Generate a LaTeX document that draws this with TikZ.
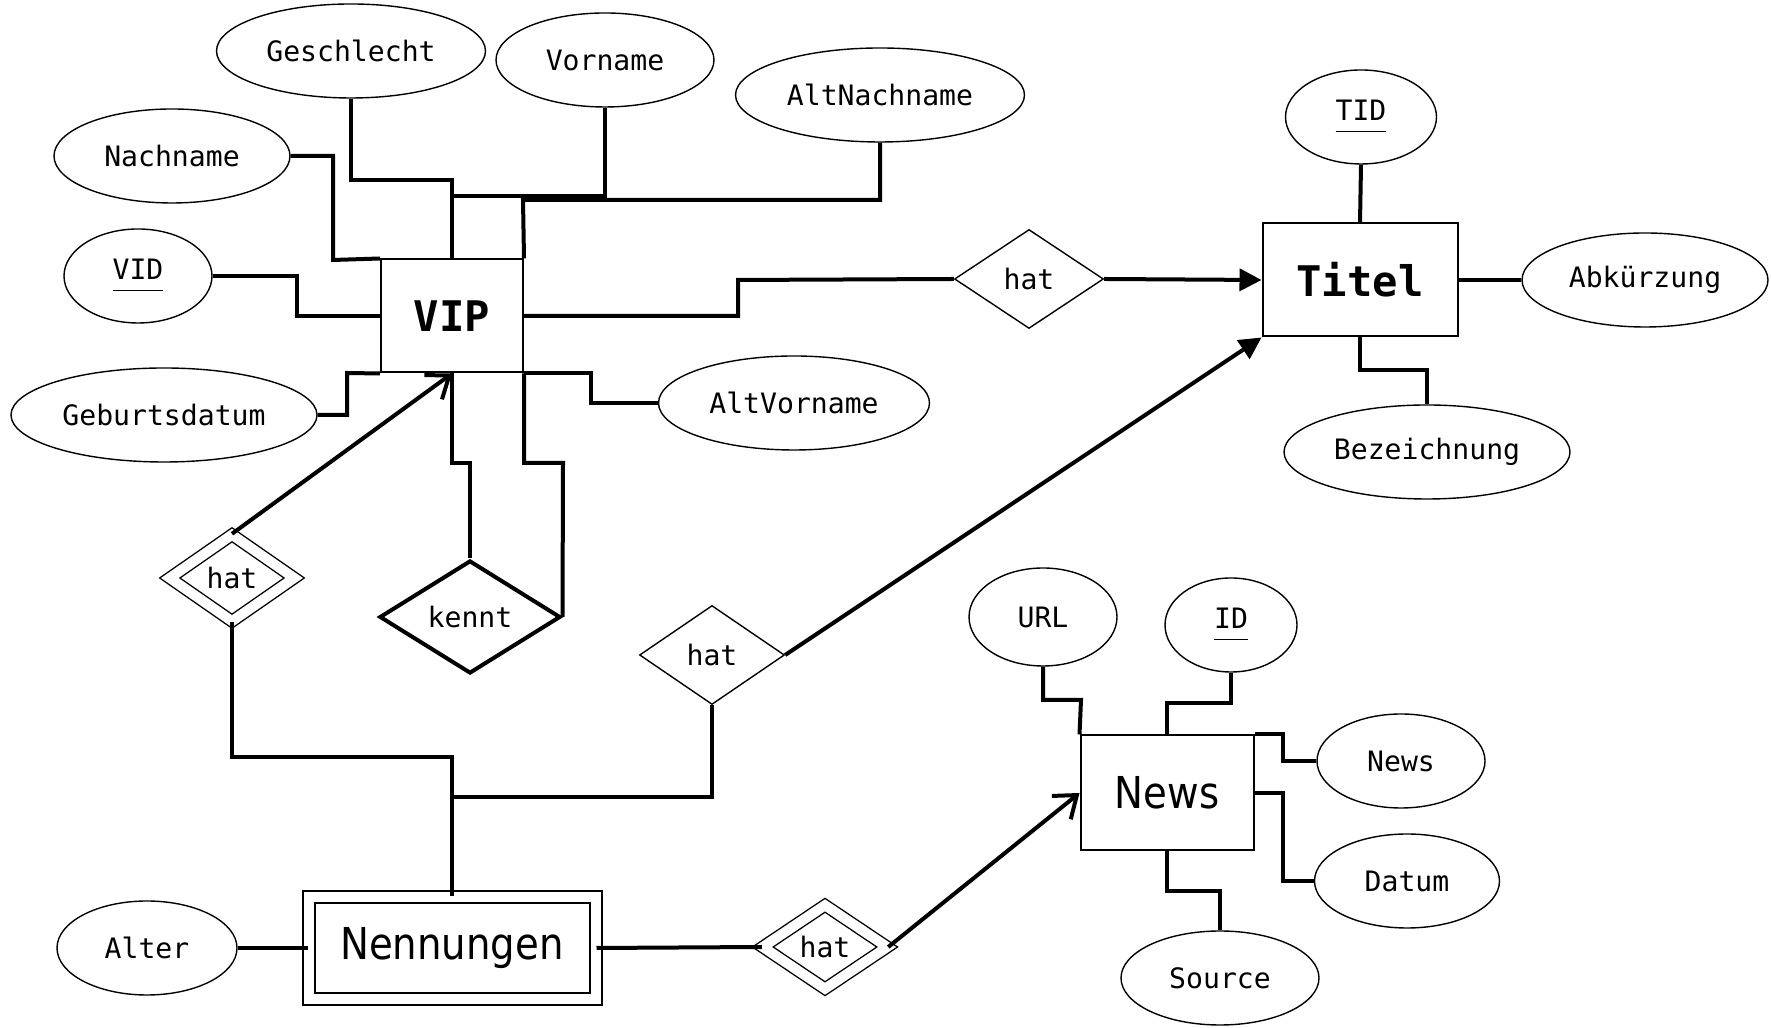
\documentclass[tikz,border=0pt]{standalone}
\usepackage{fontspec}
\setmonofont{DejaVu Sans Mono}
\newfontfamily\entSans[FakeStretch=0.88]{DejaVu Sans}
\usetikzlibrary{shapes.geometric, arrows.meta}

\newcommand{\keyAttr}[1]{\underline{#1\vphantom{g}}}

\begin{document}
\begin{tikzpicture}[x=0.1mm, y=-0.1mm,
    attr/.style={draw, ellipse, line width=0.14mm, inner sep=0pt, minimum height=9.4mm,
      font=\ttfamily\fontsize{8}{9.6}\selectfont},
    entity/.style={draw, rectangle, line width=0.2mm, inner sep=0pt, minimum height=11.3mm,
      font=\ttfamily\bfseries\fontsize{12}{14}\selectfont},
    relation/.style={draw, diamond, line width=0.14mm, inner sep=0pt,
      font=\ttfamily\fontsize{8}{9.6}\selectfont},
    sansEntity/.style={font=\entSans\fontsize{12.5}{15}\selectfont},
    conn/.style={line width=0.4mm},
    fillHead/.style={conn, -{Triangle[length=2.2mm, width=2.2mm]}},
    openHead/.style={conn, -{Straight Barb[length=2mm, width=3mm]}}]
  \useasboundingbox (0,0) rectangle (1771,1028);

  % Entities
  \node[entity, minimum width=14.2mm] (vip) at (452,316) {VIP};
  \node[entity, minimum width=19.5mm] (titel) at (1360,280) {Titel};
  \node[entity, sansEntity, minimum width=17.3mm, minimum height=11.5mm] (news) at (1167,793) {News};
  \node[entity, sansEntity, double, double distance=1mm, minimum width=28.7mm, minimum height=10.2mm] (nenn) at (452,948) {Nennungen};

  % Attributes of VIP
  \node[attr, minimum width=26.9mm] (geschlecht) at (351,51) {Geschlecht};
  \node[attr, minimum width=21.8mm] (vorname) at (605,60) {Vorname};
  \node[attr, minimum width=28.9mm] (altNachname) at (880,95) {AltNachname};
  \node[attr, minimum width=23.6mm] (nachname) at (172,156) {Nachname};
  \node[attr, minimum width=14.8mm] (vid) at (138,276) {\keyAttr{VID}};
  \node[attr, minimum width=30.6mm] (geburt) at (164,415) {Geburtsdatum};
  \node[attr, minimum width=27.1mm] (altVorname) at (794,403) {AltVorname};

  % Attributes of Titel
  \node[attr, minimum width=15.1mm] (tid) at (1361,117) {\keyAttr{TID}};
  \node[attr, minimum width=24.6mm] (abk) at (1645,280) {Abkürzung};
  \node[attr, minimum width=28.6mm] (bez) at (1427,452) {Bezeichnung};

  % Attributes of News
  \node[attr, minimum width=14.8mm, minimum height=9.8mm] (url) at (1043,617) {URL};
  \node[attr, minimum width=13.2mm] (id) at (1231,625) {\keyAttr{ID}};
  \node[attr, minimum width=16.8mm] (newsText) at (1401,761) {News};
  \node[attr, minimum width=18.5mm] (datum) at (1407,881) {Datum};
  \node[attr, minimum width=19.8mm] (source) at (1220,978) {Source};

  % Attribute of Nennungen
  \node[attr, minimum width=18mm] (alter) at (147,948) {Alter};

  % Relations
  \node[relation, minimum width=14.9mm, minimum height=9.9mm] (hatTitel) at (1029,279) {hat};
  \node[relation, double, double distance=1mm, minimum width=12.5mm, minimum height=8.7mm] (hatVip) at (232,578) {hat};
  \node[relation, line width=0.4mm, minimum width=18.1mm, minimum height=11.3mm] (kennt) at (470,617) {kennt};
  \node[relation, minimum width=14.5mm, minimum height=9.9mm] (hatNennTitel) at (712,655) {hat};
  \node[relation, double, double distance=1mm, minimum width=12.5mm, minimum height=8.4mm] (hatNews) at (825,947) {hat};

  \coordinate (nennJoin) at (452,797);

  % VIP attribute lines
  \draw[conn] (geschlecht.south) |- (452,180) -- (vip.north);
  \draw[conn] (vorname.south) |- (452,196) -- (vip.north);
  \draw[conn] (altNachname.south) |- (523,200) -- (vip.north east);
  \draw[conn] (nachname.east) -| (333,260) -- (vip.north west);
  \draw[conn] (vid.east) -| (297,316) -- (vip.west);
  \draw[conn] (geburt.east) -| (347,373) -- (vip.south west);
  \draw[conn] (vip.south east) -| (591,403) -- (altVorname.west);

  % Titel attribute lines
  \draw[conn] (titel.north) -- (tid.south);
  \draw[conn] (titel.east) -- (abk.west);
  \draw[conn] (titel.south) |- (1427,370) -- (bez.north);

  % News attribute lines
  \draw[conn] (url.south) |- (1081,700) -- (news.north west);
  \draw[conn] (id.south) |- (1167,703) -- (news.north);
  \draw[conn] (news.north east) -| (1283,761) -- (newsText.west);
  \draw[conn] (news.east) -| (1283,881) -- (datum.west);
  \draw[conn] (news.south) |- (1220,891) -- (source.north);

  \draw[conn] (alter.east) -- (nenn.west);

  % Relationship lines
  \draw[conn] (vip.east) -| (738,280) -- (hatTitel.west);
  \draw[fillHead] (hatTitel.east) -- (titel.west);
  \draw[conn] (vip.south) |- (470,463) -- (kennt.north);
  \draw[conn] (vip.south east) |- (563,463) -- (kennt.east);
  \draw[openHead] (hatVip.north) -- (vip.south);
  \draw[conn] (hatVip.south) |- (452,757) -- (nenn.north);
  \draw[conn] (hatNennTitel.south) |- (nennJoin);
  \draw[fillHead] (hatNennTitel.east) -- (titel.south west);
  \draw[conn] (nenn.east) -- (hatNews.west);
  \draw[openHead] (hatNews.east) -- (news.west);
\end{tikzpicture}
\end{document}
